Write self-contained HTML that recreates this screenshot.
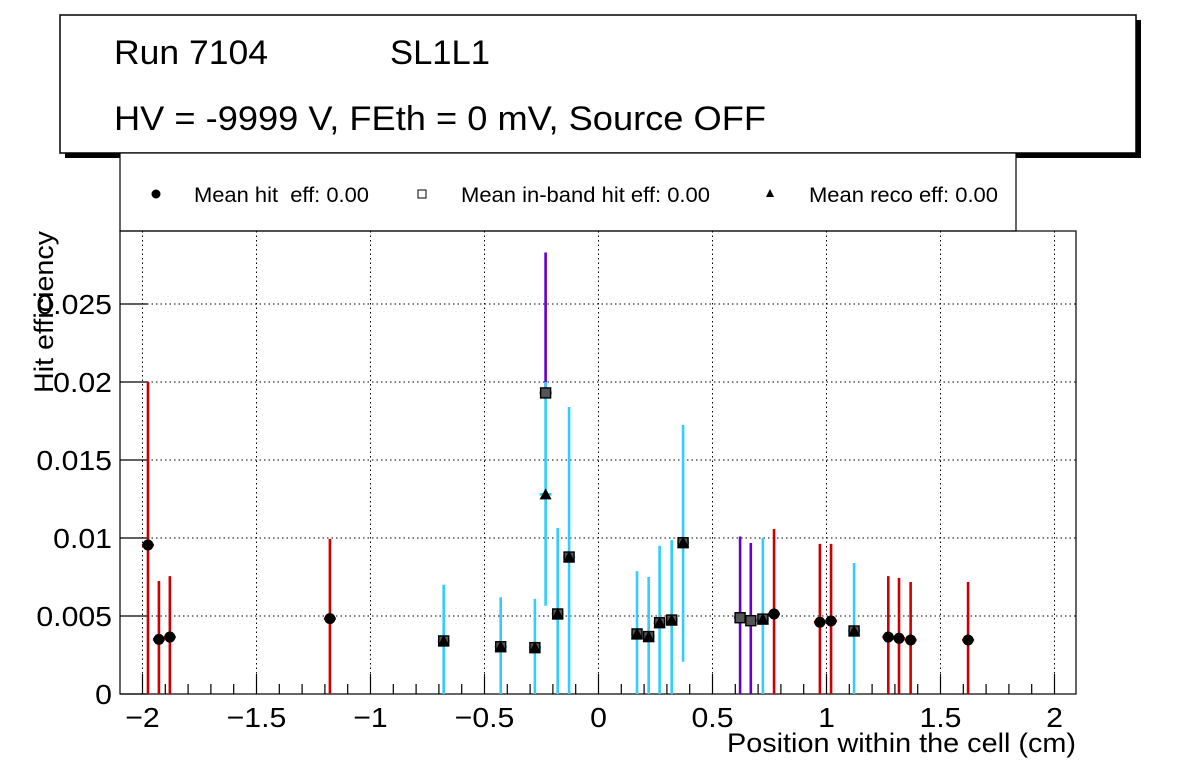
<!DOCTYPE html>
<html><head><meta charset="utf-8"><style>
body{margin:0;background:#fff;}
svg{display:block;font-family:"Liberation Sans",sans-serif;}
text{white-space:pre;}
</style></head><body>
<svg id="c" width="1196" height="772">
<rect x="65" y="20" width="1076" height="138" fill="#000"/>
<rect x="60" y="15" width="1076" height="138" fill="#fff" stroke="#000" stroke-width="1.5"/>
<text x="114" y="64" font-size="34" textLength="154" lengthAdjust="spacingAndGlyphs">Run 7104</text>
<text x="390" y="64" font-size="34" textLength="100" lengthAdjust="spacingAndGlyphs">SL1L1</text>
<text x="114" y="130" font-size="34" textLength="652" lengthAdjust="spacingAndGlyphs">HV = -9999 V, FEth = 0 mV, Source OFF</text>
<rect x="120" y="153" width="896" height="78" fill="#fff" stroke="#000" stroke-width="1.2"/>
<g><circle cx="156" cy="194" r="4.5" fill="#000"/><text x="194" y="202" font-size="21" textLength="175" lengthAdjust="spacingAndGlyphs">Mean hit  eff: 0.00</text></g>
<g><rect x="418" y="190" width="8" height="8" fill="#fff" stroke="#000"/><text x="461" y="202" font-size="21" textLength="249" lengthAdjust="spacingAndGlyphs">Mean in-band hit eff: 0.00</text></g>
<g><polygon points="770,189 774,197 766,197" fill="#000"/><text x="809" y="202" font-size="21" textLength="189" lengthAdjust="spacingAndGlyphs">Mean reco eff: 0.00</text></g>
<g id="grid"></g><g id="axes"></g><g id="marks"></g>
<text x="727" y="752" font-size="27" textLength="349" lengthAdjust="spacingAndGlyphs">Position within the cell (cm)</text>
<text transform="translate(53,393) rotate(-90)" font-size="27" textLength="162" lengthAdjust="spacingAndGlyphs">Hit efficiency</text>
</svg>
<script>
const xTicks=[-2,-1.5,-1,-0.5,0,0.5,1,1.5,2];
const xTickLabels=["\u22122","\u22121.5","\u22121","\u22120.5","0","0.5","1","1.5","2"];
const yTicks=[0,0.005,0.01,0.015,0.02,0.025];
const yTickLabels=["0","0.005","0.01","0.015","0.02","0.025"];
// hit series (red bars, circles)
const hitX=[-1.976,-1.928,-1.88,-1.178,0.77,0.971,1.02,1.271,1.318,1.369,1.621];
const hitY=[0.00955,0.0035,0.00365,0.00483,0.00513,0.0046,0.00468,0.00365,0.00357,0.00346,0.00346];
const hitLo=[0,0,0,0,0,0,0,0,0,0,0];
const hitHi=[0.02,0.00724,0.00756,0.00994,0.01058,0.00962,0.00962,0.00756,0.00744,0.00718,0.00718];
// in-band series (purple bars, squares)
const inbX=[-0.232,0.621,0.668];
const inbY=[0.0193,0.00489,0.0047];
const inbLo=[0.0193,0,0];
const inbHi=[0.0283,0.0101,0.00968];
// reco series (cyan bars, squares+triangles)
const recoX=[-0.679,-0.429,-0.279,-0.232,-0.179,-0.129,0.169,0.22,0.268,0.321,0.371,0.721,1.121];
const recoY=[0.0034,0.00303,0.00297,0.0128,0.00513,0.00878,0.00385,0.00368,0.00457,0.00474,0.0097,0.0048,0.00404];
const recoLo=[0,0,0,0.00566,0,0,0,0,0,0,0.00207,0,0];
const recoHi=[0.007,0.0062,0.0061,0.02,0.01064,0.0184,0.00788,0.0075,0.0095,0.00987,0.01724,0.01,0.0084];

const L=120,R=1076,T=231,B=694;
const X=v=>598.5+v*228;
const Y=v=>B-v*15600;
const NS="http://www.w3.org/2000/svg";
function mk(tag,attrs,parent){const e=document.createElementNS(NS,tag);for(const k in attrs)e.setAttribute(k,attrs[k]);parent.appendChild(e);return e;}
const grid=document.getElementById('grid'),axes=document.getElementById('axes'),marks=document.getElementById('marks');
mk('rect',{x:L,y:T,width:R-L,height:B-T,fill:'none',stroke:'#000','stroke-width':1.2},axes);
xTicks.forEach((t,i)=>{
 const g=mk('line',{x1:X(t),x2:X(t),y1:T,y2:B,stroke:'#000','stroke-dasharray':'1.5,3','stroke-width':1},grid);
 
 
 mk('line',{x1:X(t),x2:X(t),y1:B,y2:B-20,stroke:'#000','stroke-width':1.2},axes);
 const tx=mk('text',{x:X(t),y:727,'font-size':28,'text-anchor':'middle',transform:`translate(${X(t)},0) scale(1.08,1) translate(${-X(t)},0)`},axes);
 tx.textContent=xTickLabels[i];
 
 
});
for(let k=-21;k<=20;k++){const v=k/10;if(k%5===0)continue;const px=X(v);if(px<L||px>R)continue;mk('line',{x1:px,x2:px,y1:B,y2:B-10,stroke:'#000','stroke-width':1.2},axes);}
yTicks.forEach((t,i)=>{
 if(i>0){const g=mk('line',{x1:L,x2:R,y1:Y(t),y2:Y(t),stroke:'#000','stroke-dasharray':'1.5,3','stroke-width':1},grid);
 
 }
 mk('line',{x1:L,x2:L+28,y1:Y(t),y2:Y(t),stroke:'#000','stroke-width':1.2},axes);
 const tx=mk('text',{x:112,y:Y(t)+10,'font-size':28,'text-anchor':'end',transform:`translate(112,0) scale(1.08,1) translate(-112,0)`},axes);
 tx.textContent=yTickLabels[i];
 
 
});
function bars(xs,ys,lo,hi,color,name){
 xs.forEach((x,i)=>{
  const g=mk('g',{},marks);
  
  
  mk('line',{x1:X(x),x2:X(x),y1:Y(lo[i]),y2:Y(hi[i]),stroke:color,'stroke-width':2.6},g);
  mk('line',{x1:X(x)-6,x2:X(x)+6,y1:Y(ys[i]),y2:Y(ys[i]),stroke:color,'stroke-width':2.6},g);
 });
}
bars(hitX,hitY,hitLo,hitHi,'#cc0000','hit-error-bar');
bars(inbX,inbY,inbLo,inbHi,'#6600cc','inband-error-bar');
bars(recoX,recoY,recoLo,recoHi,'#33ccff','reco-error-bar');
hitX.forEach((x,i)=>{const c=mk('circle',{cx:X(x),cy:Y(hitY[i]),r:5.5,fill:'#000'},marks);
 
 });
function sq(x,y){const s=mk('rect',{x:X(x)-5,y:Y(y)-5,width:10,height:10,fill:'#555',stroke:'#000','stroke-width':1.4},marks);
 
 }
function tri(x,y){const px=X(x),py=Y(y);const p=mk('polygon',{points:`${px},${py-6} ${px+6},${py+5} ${px-6},${py+5}`,fill:'#000'},marks);
 
 }
inbX.forEach((x,i)=>sq(x,inbY[i]));
recoX.forEach((x,i)=>{ if(i!==3) sq(x,recoY[i]); tri(x,recoY[i]); });
</script>
</body></html>
